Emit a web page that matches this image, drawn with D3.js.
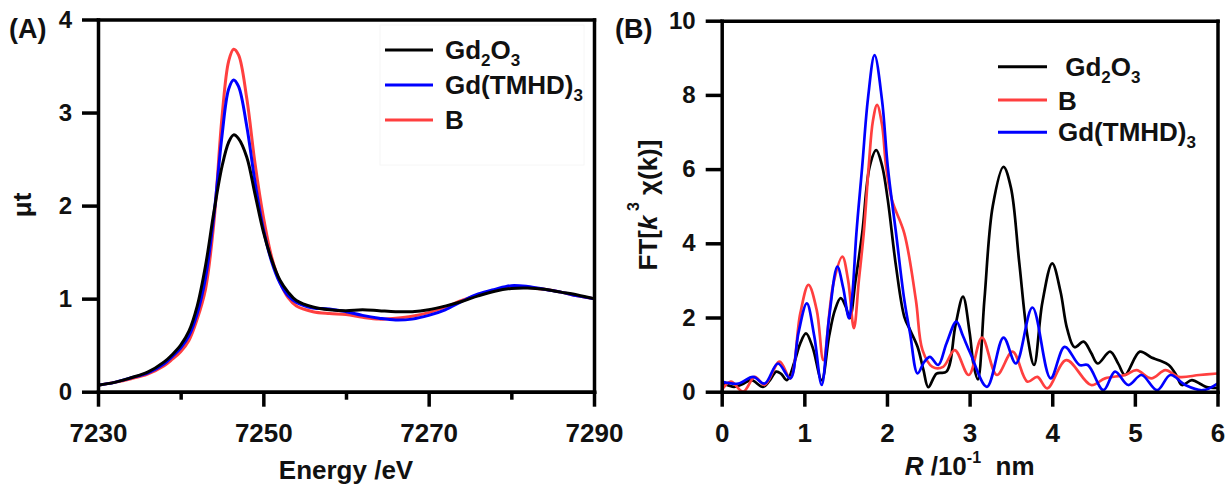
<html>
<head>
<title>Gd L3-edge XANES and EXAFS</title>
<script src="https://d3js.org/d3.v7.min.js"></script>
</head>
<style>
body { margin: 0; background: #fff; }
svg { width: 1227px; height: 486px; display: block; }
text { font-family: 'Liberation Sans', Arial, sans-serif; font-weight: bold; fill: #111; }
.axis path { stroke: #000; stroke-width: 3.5; stroke-linecap: square; }
.axis line { stroke: #000; stroke-width: 3.5; }
.axis text { font-size: 26px; }
.axis.y text { font-size: 24px; }
.curve { fill: none; stroke-linejoin: round; }
.legend text { font-size: 26px; white-space: pre; }
.title { font-size: 26px; white-space: pre; }
</style>
<body>
<svg></svg>
<script>
// (A) XANES
const xanesEnergy = [7230,7232,7234,7236,7238,7239,7240,7241,7242,7243,7244,7245,7245.8,7246.4,7247,7248,7249,7250,7251,7252,7253,7254,7256,7258,7260,7262,7264,7266,7268,7270,7272,7274,7276,7278,7280,7282,7284,7286,7288,7290];
const xanesGd2O3 = [0.07,0.10,0.15,0.21,0.32,0.40,0.50,0.65,0.92,1.35,1.92,2.42,2.68,2.76,2.72,2.52,2.12,1.72,1.42,1.20,1.07,0.98,0.91,0.88,0.87,0.88,0.87,0.86,0.86,0.88,0.92,0.97,1.03,1.08,1.11,1.115,1.10,1.07,1.04,1.00];
const xanesTMHD = [0.07,0.10,0.15,0.20,0.30,0.38,0.47,0.60,0.84,1.22,1.88,2.75,3.25,3.35,3.28,2.85,2.25,1.75,1.40,1.17,1.03,0.96,0.90,0.89,0.86,0.82,0.79,0.77,0.78,0.82,0.88,0.97,1.05,1.10,1.14,1.13,1.10,1.07,1.03,1.00];
const xanesB = [0.07,0.10,0.14,0.19,0.28,0.35,0.43,0.55,0.78,1.10,1.80,2.95,3.55,3.68,3.62,3.15,2.45,1.88,1.45,1.18,1.01,0.92,0.86,0.84,0.83,0.80,0.78,0.79,0.81,0.85,0.91,0.98,1.04,1.09,1.12,1.12,1.10,1.07,1.03,1.00];
const xanesXTicks = [7230,7250,7270,7290];
const xanesXMinor = [7240,7260,7280];
const xanesYTicks = [0,1,2,3,4];

// (B) Fourier transforms, [R, FT]
const ftGd2O3 = [[0,0.22],[0.08,0.17],[0.15,0.13],[0.25,0.2],[0.36,0.31],[0.5,0.13],[0.58,0.3],[0.66,0.54],[0.72,0.48],[0.79,0.31],[0.88,0.8],[0.95,1.3],[1.02,1.57],[1.1,1.2],[1.21,0.31],[1.3,1.5],[1.37,2.2],[1.44,2.52],[1.5,2.3],[1.55,1.98],[1.62,3.0],[1.7,4.27],[1.79,6.06],[1.87,6.51],[1.94,6.1],[2.01,5.17],[2.11,3.37],[2.21,2.02],[2.28,1.66],[2.37,1.21],[2.44,0.6],[2.5,0.12],[2.6,0.49],[2.72,0.54],[2.83,1.8],[2.92,2.56],[3.0,1.6],[3.05,0.7],[3.1,0.33],[3.18,2.5],[3.28,5.0],[3.41,6.06],[3.5,5.5],[3.6,3.5],[3.7,1.5],[3.78,0.72],[3.88,2.4],[4.0,3.46],[4.1,2.7],[4.18,1.7],[4.27,1.2],[4.38,1.35],[4.47,1.05],[4.55,0.76],[4.7,1.08],[4.8,0.75],[4.88,0.45],[5.06,1.08],[5.2,0.92],[5.29,0.85],[5.41,0.72],[5.5,0.45],[5.57,0.18],[5.69,0.31],[5.8,0.2],[5.86,0.13],[6.0,0.1]];
const ftB = [[0,0.04],[0.11,0.27],[0.26,0.0],[0.4,0.4],[0.52,0.18],[0.7,0.81],[0.83,0.36],[0.95,2.1],[1.05,2.88],[1.15,2.2],[1.23,0.85],[1.35,2.9],[1.46,3.64],[1.53,3.0],[1.6,1.71],[1.66,3.0],[1.72,4.3],[1.78,6.1],[1.83,7.3],[1.88,7.73],[1.94,7.2],[1.99,6.06],[2.06,5.17],[2.21,4.27],[2.35,2.47],[2.43,1.12],[2.55,0.67],[2.68,0.67],[2.82,1.12],[2.99,0.45],[3.15,1.46],[3.33,0.45],[3.52,1.08],[3.7,0.27],[3.82,0.4],[3.94,0.09],[4.17,0.85],[4.47,0.18],[4.64,0.36],[4.88,0.45],[5.02,0.58],[5.2,0.36],[5.37,0.58],[5.53,0.4],[5.78,0.45],[6.0,0.49]];
const ftTMHD = [[0,0.27],[0.2,0.22],[0.38,0.4],[0.52,0.22],[0.68,0.76],[0.83,0.36],[0.93,1.6],[1.03,2.38],[1.12,1.5],[1.21,0.18],[1.3,2.0],[1.4,3.37],[1.47,2.8],[1.54,1.98],[1.58,2.6],[1.63,4.27],[1.7,6.06],[1.77,7.9],[1.85,9.07],[1.94,7.86],[2.01,6.06],[2.11,4.27],[2.21,2.47],[2.28,1.57],[2.37,0.49],[2.45,0.8],[2.52,0.94],[2.62,0.72],[2.72,1.3],[2.84,1.89],[2.92,1.5],[3.01,1.03],[3.21,0.13],[3.41,1.46],[3.56,0.76],[3.76,2.27],[3.98,0.36],[4.15,1.21],[4.33,0.72],[4.43,0.72],[4.62,0.04],[4.76,0.54],[4.92,0.18],[5.08,0.45],[5.27,0.04],[5.43,0.45],[5.61,0.18],[5.82,0.04],[6.0,0.22]];
const ftXTicks = [0,1,2,3,4,5,6];
const ftYTicks = [0,2,4,6,8,10];

const black = '#000000';
const blue = '#0000ff';
const red = '#ff3f3f';

const svg = d3.select('svg');

// writes "Gd2O3" style labels with subscript digits
function formula(sel, label) {
  const parts = label.match(/[0-9]+|[^0-9]+/g);
  let down = false;
  parts.forEach((p) => {
    const isSub = /^[0-9]+$/.test(p);
    const t = sel.append('tspan').text(p);
    if (isSub && !down) { t.attr('font-size', 17).attr('dy', 7); down = true; }
    else if (!isSub && down) { t.attr('dy', -7); down = false; }
  });
}

function frame(g, x, y, box) {
  g.append('g').attr('class', 'axis')
    .attr('transform', `translate(0, ${box.top})`)
    .call(d3.axisTop(x).tickValues([]).tickSizeOuter(0));
  g.append('g').attr('class', 'axis')
    .attr('transform', `translate(${box.right}, 0)`)
    .call(d3.axisRight(y).tickValues([]).tickSizeOuter(0));
}

// ---------- panel A ----------
const boxA = { left: 98, right: 594, top: 19.5, bottom: 391.7 };
const xA = d3.scaleLinear().domain([7230, 7290]).range([boxA.left, boxA.right]);
const yA = d3.scaleLinear().domain([0, 4]).range([boxA.bottom, boxA.top]);
const gA = svg.append('g');

gA.append('rect')
  .attr('x', 380).attr('y', 25).attr('width', 204).attr('height', 140)
  .attr('fill', 'none').attr('stroke', '#f6f6f6');

const lineA = d3.line()
  .x((d, i) => xA(xanesEnergy[i]))
  .y((d) => yA(d))
  .curve(d3.curveCatmullRom.alpha(0.5));

[[xanesB, red], [xanesTMHD, blue], [xanesGd2O3, black]].forEach(([s, c]) => {
  gA.append('path').attr('class', 'curve')
    .attr('d', lineA(s)).attr('stroke', c).attr('stroke-width', 3);
});

frame(gA, xA, yA, boxA);

gA.append('g').attr('class', 'axis')
  .attr('transform', `translate(0, ${boxA.bottom})`)
  .call(d3.axisBottom(xA).tickValues(xanesXMinor).tickSize(8).tickSizeOuter(0).tickFormat(''));
gA.append('g').attr('class', 'axis')
  .attr('transform', `translate(0, ${boxA.bottom})`)
  .call(d3.axisBottom(xA).tickValues(xanesXTicks).tickSize(15).tickSizeOuter(0).tickFormat(d3.format('d')))
  .selectAll('text').attr('y', 50).attr('dy', 0);
gA.append('g').attr('class', 'axis y')
  .attr('transform', `translate(${boxA.left}, 0)`)
  .call(d3.axisLeft(yA).tickValues(xanesYTicks).tickSize(16).tickPadding(10).tickSizeOuter(0).tickFormat(d3.format('d')));

const legA = gA.append('g').attr('class', 'legend');
[['Gd2O3', black, 50, 59], ['Gd(TMHD)3', blue, 85, 94], ['B', red, 120, 129]].forEach(([name, c, ly, ty]) => {
  legA.append('line').attr('x1', 385).attr('x2', 433).attr('y1', ly).attr('y2', ly)
    .attr('stroke', c).attr('stroke-width', 3);
  formula(legA.append('text').attr('x', 445).attr('y', ty), name);
});

svg.append('text').attr('class', 'title')
  .attr('x', (boxA.left + boxA.right) / 2).attr('y', 479)
  .attr('text-anchor', 'middle').text('Energy /eV');
svg.append('text').attr('class', 'title')
  .attr('transform', 'translate(31, 205) rotate(-90)')
  .attr('text-anchor', 'middle').text('\u03bct');
svg.append('text').attr('class', 'title').style('font-size', '27px')
  .attr('x', 9).attr('y', 38).text('(A)');

// ---------- panel B ----------
const boxB = { left: 721.7, right: 1217.5, top: 20.7, bottom: 391.7 };
const xB = d3.scaleLinear().domain([0, 6]).range([boxB.left, boxB.right]);
const yB = d3.scaleLinear().domain([0, 10]).range([boxB.bottom, boxB.top]);
const gB = svg.append('g');

const lineB = d3.line()
  .x((d) => xB(d[0]))
  .y((d) => yB(d[1]))
  .curve(d3.curveCatmullRom.alpha(0.5));

[[ftGd2O3, black], [ftB, red], [ftTMHD, blue]].forEach(([s, c]) => {
  gB.append('path').attr('class', 'curve')
    .attr('d', lineB(s)).attr('stroke', c).attr('stroke-width', 2.7);
});

frame(gB, xB, yB, boxB);

gB.append('g').attr('class', 'axis')
  .attr('transform', `translate(0, ${boxB.bottom})`)
  .call(d3.axisBottom(xB).tickValues(ftXTicks).tickSize(15).tickSizeOuter(0).tickFormat(d3.format('d')))
  .selectAll('text').attr('y', 50).attr('dy', 0);
gB.append('g').attr('class', 'axis y')
  .attr('transform', `translate(${boxB.left}, 0)`)
  .call(d3.axisLeft(yB).tickValues(ftYTicks).tickSize(16).tickPadding(10).tickSizeOuter(0).tickFormat(d3.format('d')));

const legB = gB.append('g').attr('class', 'legend');
[[' Gd2O3', black, 66.7, 76], ['B', red, 100, 110], ['Gd(TMHD)3', blue, 132.3, 141]].forEach(([name, c, ly, ty]) => {
  legB.append('line').attr('x1', 998).attr('x2', 1047).attr('y1', ly).attr('y2', ly)
    .attr('stroke', c).attr('stroke-width', 3);
  formula(legB.append('text').attr('x', 1058).attr('y', ty), name);
});

const xt = svg.append('text').attr('class', 'title')
  .attr('x', (boxB.left + boxB.right) / 2).attr('y', 475)
  .attr('text-anchor', 'middle');
xt.append('tspan').attr('font-style', 'italic').text('R');
xt.append('tspan').text(' /10');
xt.append('tspan').attr('font-size', 16).attr('dy', -12).text('-1');
xt.append('tspan').attr('dy', 12).text('  nm');

const yt = svg.append('text').attr('class', 'title')
  .attr('transform', 'translate(657, 205) rotate(-90)')
  .attr('text-anchor', 'middle');
yt.append('tspan').text('FT[');
yt.append('tspan').attr('font-style', 'italic').text('k');
yt.append('tspan').attr('font-size', 16).attr('dy', -18).text(' 3');
yt.append('tspan').attr('dy', 18).text(' \u03c7(k)]');

svg.append('text').attr('class', 'title').style('font-size', '27px')
  .attr('x', 615).attr('y', 38).text('(B)');
</script>
</body>
</html>
